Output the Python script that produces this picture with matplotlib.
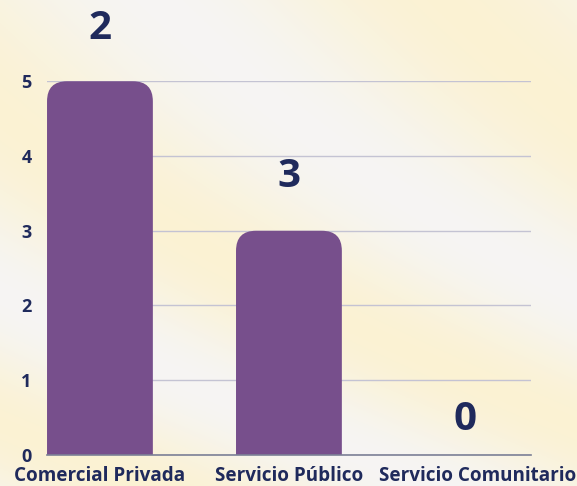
import matplotlib
matplotlib.use("Agg")
import matplotlib.pyplot as plt
import numpy as np
from matplotlib.patches import FancyBboxPatch

# Chart data
categories = ["Comercial Privada", "Servicio Público", "Servicio Comunitario"]
bar_heights = [5, 3, 0]
value_labels = ["2", "3", "0"]
y_ticks = [0, 1, 2, 3, 4, 5]

BAR_COLOR = "#774f8c"
TEXT_COLOR = "#1f2a5c"
GRID_COLOR = "#c4c3d3"
AXIS_COLOR = "#7c8096"

plt.rcParams["font.family"] = ["Open Sans", "DejaVu Sans"]
plt.rcParams["font.weight"] = "bold"

fig = plt.figure(figsize=(5.77, 4.86), dpi=100)

# soft blurred-photo style backdrop (decoration only)
bg = fig.add_axes([0, 0, 1, 1], zorder=-10)
gx, gy = np.meshgrid(np.linspace(0, 1, 300), np.linspace(0, 1, 260))
field = 0.5 + 0.5 * np.sin(7.0 * (gx * 0.9 + gy * 1.3) + 1.2 * np.sin(3 * gy))
warm = np.array([0.985, 0.950, 0.830])
light = np.array([0.965, 0.960, 0.955])
img = light[None, None, :] * (1 - field[..., None]) + warm[None, None, :] * field[..., None]
bg.imshow(img, aspect="auto", extent=[0, 1, 0, 1], origin="lower")
bg.axis("off")

ax = fig.add_axes([0.0815, 0.0638, 0.8385, 0.769])
ax.patch.set_alpha(0)

x = np.arange(len(categories))
bars = ax.bar(x, bar_heights, width=0.56, color=BAR_COLOR, zorder=3)
ax.set_xlim(-0.28, 2.28)
ax.set_ylim(0, 5)

# replace bars with round-topped versions
fig.canvas.draw()
p0 = ax.transData.transform((0, 0))
p1 = ax.transData.transform((1, 1))
px_x = p1[0] - p0[0]
px_y = p1[1] - p0[1]
radius_px = 20
rx = radius_px / px_x
aspect = px_x / px_y
for rect in bars:
    h = rect.get_height()
    rect.set_visible(False)
    if h <= 0:
        continue
    r_y = rx * aspect
    fb = FancyBboxPatch((rect.get_x(), -r_y), rect.get_width(), h + r_y,
                        boxstyle=f"round,pad=0,rounding_size={rx}",
                        mutation_aspect=aspect, facecolor=BAR_COLOR,
                        edgecolor="none", zorder=3)
    ax.add_patch(fb)

# value labels above bars (offsets in pixels)
offsets = [33, 35, 16]
x_shift = [0, 0, -13]
for xi, h, lab, off, dx in zip(x, bar_heights, value_labels, offsets, x_shift):
    ax.annotate(lab, (xi, h), xytext=(dx * 0.72, off * 0.72), textcoords="offset points",
                ha="center", va="bottom", fontsize=29, fontweight="bold",
                color=TEXT_COLOR, annotation_clip=False)

ax.set_yticks(y_ticks)
ax.set_xticks(x)
ax.set_xticklabels(categories)
ax.grid(axis="y", color=GRID_COLOR, linewidth=1, zorder=0)
ax.set_axisbelow(True)
for s in ["top", "right", "left"]:
    ax.spines[s].set_visible(False)
ax.spines["bottom"].set_color(AXIS_COLOR)
ax.spines["bottom"].set_linewidth(1.2)
ax.spines["bottom"].set_zorder(4)
ax.tick_params(axis="y", length=0, pad=11, labelsize=13, labelcolor=TEXT_COLOR)
ax.tick_params(axis="x", length=0, pad=8, labelsize=13.6, labelcolor=TEXT_COLOR)
for t in ax.get_xticklabels() + ax.get_yticklabels():
    t.set_fontweight("bold")

fig.savefig("out.png", dpi=100)
